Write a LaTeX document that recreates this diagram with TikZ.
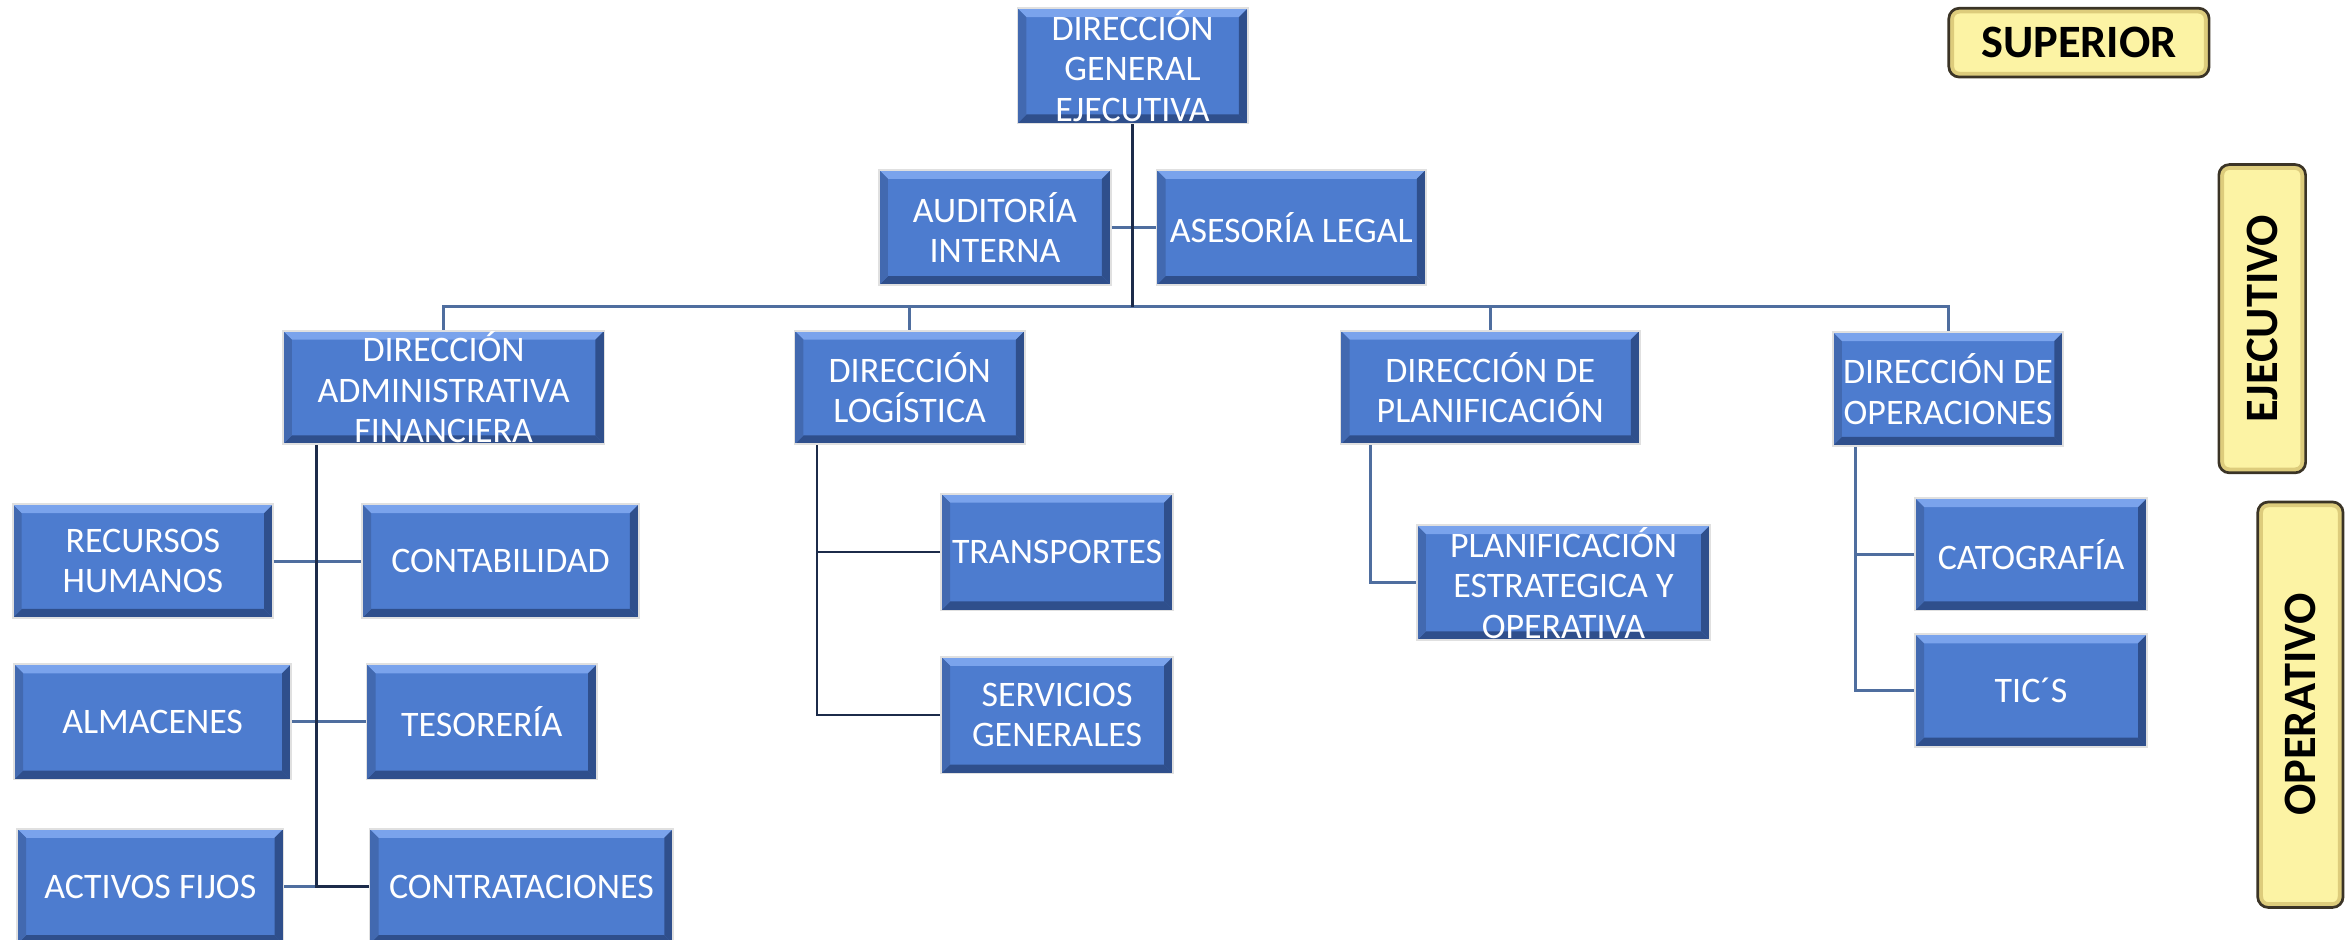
\documentclass[tikz,border=0pt]{standalone}
\usepackage{fontspec}
\setmainfont{Carlito}
\usetikzlibrary{calc}
\definecolor{blaumitte}{HTML}{4D7CCF}
\definecolor{blauhell}{HTML}{7AA3EC}
\definecolor{blaudunkel}{HTML}{2F4F8C}
\definecolor{navy}{HTML}{1C2B4A}
\definecolor{stahl}{HTML}{4F6E9F}
\definecolor{gelb}{HTML}{FCF3A4}
\definecolor{gelbrand}{HTML}{DDCC7C}
\definecolor{rahmen}{HTML}{3B3426}
\tikzset{
  einheit/.style={fill=blaumitte, draw=black!12, line width=1.2, text=white,
    font=\fontsize{24}{27}\selectfont, align=center, inner sep=0pt, minimum height=77,
    path picture={
      \coordinate (pn) at (path picture bounding box.north west);
      \coordinate (ps) at (path picture bounding box.south east);
      \fill[blauhell] (pn) -- (pn -| ps) -- ++(-6,-6) -- ($(pn)+(6,-6)$) -- cycle;
      \fill[blaudunkel] (ps) -- (ps |- pn) -- ++(-6,-6) -- ($(ps)+(-6,6)$) -- cycle;
      \fill[blaudunkel] (ps) -- (pn |- ps) -- ++(6,6) -- ($(ps)+(-6,6)$) -- cycle;
      \fill[blaumitte!85!black] (pn) -- (pn |- ps) -- ++(6,6) -- ($(pn)+(6,-6)$) -- cycle;
    }},
  ebene/.style={fill=gelb, draw=rahmen, line width=1.8, rounded corners=7,
    font=\fontsize{31}{31}\selectfont\bfseries, inner sep=0pt,
    path picture={
      \draw[gelbrand, line width=7] (path picture bounding box.south west) rectangle (path picture bounding box.north east);
    }},
  linie/.style={draw=stahl, line width=2},
  haupt/.style={draw=navy, line width=2.4}
}
\begin{document}
\begin{tikzpicture}[x=1pt,y=1pt]
  \useasboundingbox (0,0) rectangle (1568,-627.6);
  % Ebenen
  \node[ebene, minimum width=174, minimum height=46] (sup) at (1389.5,-28.5) {SUPERIOR};
  \node[ebene, rotate=90, minimum width=206, minimum height=58] (eje) at (1512,-213) {EJECUTIVO};
  \node[ebene, rotate=90, minimum width=271, minimum height=57] (ope) at (1537.5,-471) {OPERATIVO};
  % Leitung
  \node[einheit, minimum width=154] (dge) at (757,-44) {DIRECCIÓN\\GENERAL\\EJECUTIVA};
  \node[einheit, minimum width=155] (ai) at (665,-152) {AUDITORÍA\\INTERNA};
  \node[einheit, minimum width=180] (al) at (863,-152) {ASESORÍA LEGAL};
  % Direktionen
  \node[einheit, minimum width=215, minimum height=76] (daf) at (296.5,-259) {DIRECCIÓN\\ADMINISTRATIVA\\FINANCIERA};
  \node[einheit, minimum width=154, minimum height=76] (dl) at (608,-259) {DIRECCIÓN\\LOGÍSTICA};
  \node[einheit, minimum width=200, minimum height=76] (dp) at (996,-259) {DIRECCIÓN DE\\PLANIFICACIÓN};
  \node[einheit, minimum width=154, minimum height=76] (dop) at (1302,-260) {DIRECCIÓN DE\\OPERACIONES};
  % Abteilungen
  \node[einheit, minimum width=174, minimum height=76] (rh) at (95.5,-375) {RECURSOS\\HUMANOS};
  \node[einheit, minimum width=185, minimum height=76] (cont) at (334.5,-375) {CONTABILIDAD};
  \node[einheit, minimum width=185] (alm) at (102,-482.5) {ALMACENES};
  \node[einheit, minimum width=154] (tes) at (322,-482.5) {TESORERÍA};
  \node[einheit, minimum width=178] (af) at (100.5,-592.5) {ACTIVOS FIJOS};
  \node[einheit, minimum width=203] (contr) at (348.5,-592.5) {CONTRATACIONES};
  \node[einheit, minimum width=155, minimum height=78] (tr) at (706.5,-369) {TRANSPORTES};
  \node[einheit, minimum width=155, minimum height=78] (sg) at (706.5,-478) {SERVICIOS\\GENERALES};
  \node[einheit, minimum width=196] (pe) at (1045,-389.5) {PLANIFICACIÓN\\ESTRATEGICA Y\\OPERATIVA};
  \node[einheit, minimum width=155, minimum height=75] (cat) at (1357.5,-370.5) {CATOGRAFÍA};
  \node[einheit, minimum width=155, minimum height=75] (tic) at (1357.5,-461.5) {TIC´S};
  % Verbindungen
  \coordinate (bus) at (757,-205);
  \draw[linie] (daf.north) |- (bus) -| (dop.north);
  \draw[linie] (dl.north) -- (dl.north |- bus);
  \draw[linie] (dp.north) -- (dp.north |- bus);
  \draw[linie] (ai.east) -- (al.west);
  \draw[haupt] (dge.south) -- (bus);
  % Zweige
  \coordinate (dafast) at ([xshift=23]daf.south west);
  \coordinate (dlast) at ([xshift=15.5]dl.south west);
  \coordinate (dpast) at ([xshift=20.5]dp.south west);
  \coordinate (doast) at ([xshift=15.5]dop.south west);
  \draw[linie] (rh.east) -- (cont.west);
  \draw[linie] (alm.east) -- (tes.west);
  \draw[linie] (af.east) -- (contr.west);
  \draw[haupt] (dafast) |- (contr.west);
  \draw[haupt, line width=1.6] (dlast) |- (sg.west);
  \draw[haupt, line width=1.6] (tr.west) -- (tr.west -| dlast);
  \draw[linie] (dpast) |- (pe.west);
  \draw[linie] (doast) |- (tic.west);
  \draw[linie] (cat.west) -- (cat.west -| doast);
\end{tikzpicture}
\end{document}
